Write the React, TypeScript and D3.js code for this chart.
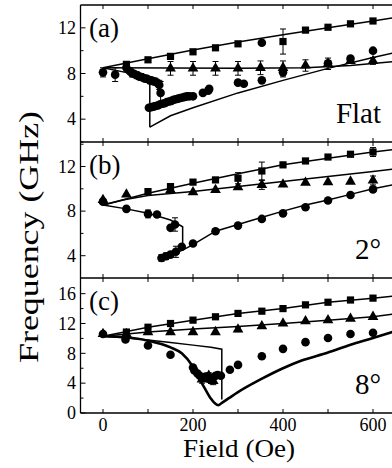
import React, { useRef, useEffect } from 'react';
import * as d3 from 'd3';

// [field (Oe), frequency (GHz), error bar half-height?]
type Pt = number[];

const fieldTicks = [0, 100, 200, 300, 400, 500, 600];
const fieldLabels = [0, 200, 400, 600];

// ---- panel (a), flat ----
const aLineUpper: Pt[] = [[0, 8.5], [100, 9.3], [200, 10.05], [300, 10.75], [400, 11.4], [500, 12.0], [600, 12.6], [650, 12.9]];
const aLineMid: Pt[] = [[0, 8.5], [300, 8.45], [450, 8.5], [550, 8.7], [650, 9.05]];
const aLineDesc: Pt[] = [[0, 8.5], [50, 8.1], [104, 7.3], [104, 3.3]];
const aLineLow: Pt[] = [[104, 3.3], [150, 4.3], [200, 5.0], [300, 6.3], [400, 7.4], [500, 8.45], [600, 9.4], [650, 9.85]];
const aSquares: Pt[] = [[52, 8.8], [100, 9.2], [150, 9.5], [200, 9.9], [250, 10.25], [300, 10.6], [400, 10.8, 1.1], [450, 11.8], [500, 12.05], [550, 12.35], [600, 12.6]];
const aTriangles: Pt[] = [[150, 8.45, 0.6], [200, 8.45, 0.6], [250, 8.45, 0.6], [300, 8.45, 0.6], [350, 8.5, 0.6], [400, 8.5, 0.6], [450, 8.7, 0.5], [500, 8.85, 0.5], [550, 9.1], [600, 9.1, 0.3]];
const aCircles: Pt[] = [
  [0, 8.1, 0.4], [27, 7.9, 0.6], [52, 8.5, 0.3], [60, 8.2], [65, 8.0, 0.3], [70, 7.95], [75, 7.85, 0.3], [80, 7.75],
  [85, 7.7, 0.3], [90, 7.6], [95, 7.55, 0.3], [100, 7.5], [105, 7.4, 0.3], [110, 7.35], [115, 7.3, 0.3], [120, 7.2],
  [125, 7.0, 0.4], [128, 6.3, 1.0],
  [102, 5.0], [107, 5.05], [112, 5.1], [117, 5.15], [122, 5.2], [127, 5.3], [132, 5.35], [137, 5.4], [142, 5.5],
  [147, 5.55], [152, 5.6], [157, 5.7], [162, 5.75], [167, 5.8], [172, 5.85], [177, 5.9], [182, 5.95], [187, 6.0],
  [192, 6.0], [200, 6.0], [222, 6.3], [234, 6.5], [236, 6.65], [300, 7.2], [313, 7.1], [353, 7.4], [353, 10.7],
  [400, 8.1, 0.4], [500, 8.9], [550, 9.3], [600, 10.0]
];

// ---- panel (b), 2 degrees ----
const bLineUpper: Pt[] = [[0, 8.55], [100, 9.6], [200, 10.5], [300, 11.35], [400, 12.15], [500, 12.75], [600, 13.3], [650, 13.55]];
const bLineMid: Pt[] = [[0, 8.55], [50, 9.05], [100, 9.4], [200, 9.75], [300, 10.2], [400, 10.65], [500, 11.1], [600, 11.55], [650, 11.8]];
const bLineDesc: Pt[] = [[0, 8.55], [52, 8.2], [100, 7.8], [150, 7.2], [177, 6.6], [177, 4.5]];
const bLineLow: Pt[] = [[140, 3.9], [177, 4.5], [200, 5.0], [250, 6.2], [300, 6.8], [350, 7.4], [400, 8.0], [450, 8.55], [500, 9.0], [550, 9.5], [600, 10.0], [650, 10.4]];
const bSquares: Pt[] = [[100, 9.75], [150, 10.2], [200, 10.6], [250, 10.8], [300, 10.95, 0.5], [353, 11.6, 0.8], [400, 12.15], [450, 12.5], [500, 12.85], [550, 13.1], [600, 13.3, 0.4]];
const bTriangles: Pt[] = [[0, 9.0], [52, 9.5], [150, 9.9], [200, 9.7], [250, 9.9], [300, 10.15], [353, 10.35, 0.4], [400, 10.4], [450, 10.55], [500, 10.6], [550, 10.65], [600, 10.75, 0.4]];
const bCircles: Pt[] = [
  [0, 8.85], [52, 8.2], [100, 7.75, 0.35], [120, 7.7], [150, 6.5], [160, 6.8, 0.6], [130, 3.8, 0.3], [140, 3.95, 0.3],
  [150, 4.1], [162, 4.35, 0.5], [175, 4.8], [200, 5.1], [250, 6.2], [300, 6.7], [353, 7.3], [400, 7.8], [450, 8.35],
  [500, 8.95], [550, 9.45], [600, 9.95]
];

// ---- panel (c), 8 degrees ----
const cLineUpper: Pt[] = [[0, 10.3], [100, 11.5], [200, 12.45], [300, 13.35], [400, 14.0], [500, 14.85], [600, 15.4], [650, 15.7]];
const cLineMid: Pt[] = [[0, 10.3], [100, 10.85], [200, 11.25], [300, 11.6], [400, 12.0], [500, 12.45], [600, 12.9], [650, 13.3]];
const cLineDip: Pt[] = [[0, 10.3], [50, 10.15], [100, 9.7], [150, 8.8], [175, 8.0], [200, 6.2], [215, 4.5], [230, 2.9], [240, 1.9], [256, 1.05], [265, 1.4], [280, 2.0], [300, 2.8], [350, 4.5], [400, 6.0], [440, 7.0], [500, 8.1], [550, 9.15], [600, 10.05], [650, 11.0]];
const cLineHyst: Pt[] = [[0, 10.3], [50, 10.1], [100, 9.8], [150, 9.45], [200, 9.1], [240, 8.8], [264, 8.55], [264, 1.8]];
const cSquares: Pt[] = [[52, 10.85], [100, 11.5], [150, 12.0], [200, 12.45], [250, 12.9], [300, 13.35], [353, 13.65], [400, 14.0], [450, 14.5], [500, 14.85], [550, 15.15], [600, 15.4]];
const cTriangles: Pt[] = [[0, 10.6], [52, 10.6], [100, 10.85], [150, 10.85], [200, 10.85], [250, 10.85], [300, 11.2, 0.3], [353, 11.65], [400, 12.0], [450, 12.3], [500, 12.45], [550, 12.65], [600, 12.9], [220, 4.5, 0.5], [235, 5.0, 0.4], [245, 4.3, 0.5]];
const cCircles: Pt[] = [
  [0, 10.6], [50, 9.85], [100, 9.05], [150, 7.8], [200, 6.1], [203, 5.7], [210, 5.3], [215, 5.0], [222, 4.7], [228, 4.9],
  [235, 4.6], [240, 4.4], [245, 4.8], [250, 5.0], [255, 5.1], [262, 5.0], [282, 5.8], [300, 6.45], [353, 7.6], [400, 8.6],
  [450, 9.5], [500, 10.05], [550, 10.6], [600, 10.75]
];

const panels = [
  { tag: '(a)', note: 'Flat', domain: [2, 14], top: 5, bottom: 142, ticks: [2, 4, 6, 8, 10, 12], labels: [4, 8, 12],
    lines: [aLineUpper, aLineMid, aLineDesc, aLineLow], thick: [] as Pt[][],
    squares: aSquares, triangles: aTriangles, circles: aCircles },
  { tag: '(b)', note: '2°', domain: [2, 14.2], top: 142, bottom: 278, ticks: [4, 6, 8, 10, 12, 14], labels: [4, 8, 12],
    lines: [bLineUpper, bLineMid, bLineDesc, bLineLow], thick: [] as Pt[][],
    squares: bSquares, triangles: bTriangles, circles: bCircles },
  { tag: '(c)', note: '8°', domain: [0, 18.1], top: 278, bottom: 413, ticks: [0, 2, 4, 6, 8, 10, 12, 14, 16], labels: [0, 4, 8, 12, 16],
    lines: [cLineUpper, cLineMid, cLineHyst], thick: [cLineDip],
    squares: cSquares, triangles: cTriangles, circles: cCircles }
];

export default function App() {
  const ref = useRef<SVGSVGElement>(null);

  useEffect(() => {
    const svg = d3.select(ref.current);
    svg.selectAll('*').remove();
    const font = "'Times New Roman', 'Liberation Serif', Times, serif";
    const left = 80.5;

    const x = d3.scaleLinear().domain([-50, 700]).range([left, 418]);

    svg.append('rect').attr('width', 392).attr('height', 468).attr('fill', '#fff');

    panels.forEach((p, i) => {
      const y = d3.scaleLinear().domain(p.domain).range([p.bottom, p.top]);
      const g = svg.append('g');

      // frame
      g.append('line').attr('x1', left).attr('x2', 420).attr('y1', p.bottom).attr('y2', p.bottom)
        .attr('stroke', '#000').attr('stroke-width', 1.3);
      if (i === 0) {
        g.append('line').attr('x1', left).attr('x2', 420).attr('y1', p.top).attr('y2', p.top)
          .attr('stroke', '#000').attr('stroke-width', 1.3);
      }
      g.append('line').attr('x1', left).attr('x2', left).attr('y1', p.top).attr('y2', p.bottom)
        .attr('stroke', '#000').attr('stroke-width', 1.3);

      // x ticks, inward at top and bottom
      fieldTicks.forEach(t => {
        g.append('line').attr('x1', x(t)).attr('x2', x(t)).attr('y1', p.bottom).attr('y2', p.bottom - 4)
          .attr('stroke', '#000');
        g.append('line').attr('x1', x(t)).attr('x2', x(t)).attr('y1', p.top).attr('y2', p.top + 4)
          .attr('stroke', '#000');
      });

      // y ticks
      p.ticks.forEach(t => {
        const major = p.labels.includes(t);
        g.append('line').attr('x1', left).attr('x2', left + (major ? 5 : 3))
          .attr('y1', y(t)).attr('y2', y(t)).attr('stroke', '#000');
      });
      p.labels.forEach(t => {
        g.append('text').attr('x', 76).attr('y', y(t)).attr('dy', '0.35em')
          .attr('text-anchor', 'end').attr('font-family', font).attr('font-size', 18).text(t);
      });

      const line = d3.line<Pt>().x(d => x(d[0])).y(d => y(d[1]));
      p.lines.forEach(l => {
        g.append('path').datum(l).attr('d', line).attr('fill', 'none')
          .attr('stroke', '#000').attr('stroke-width', 1.5);
      });
      const smooth = d3.line<Pt>().x(d => x(d[0])).y(d => y(d[1])).curve(d3.curveMonotoneX);
      p.thick.forEach(l => {
        g.append('path').datum(l).attr('d', smooth).attr('fill', 'none')
          .attr('stroke', '#000').attr('stroke-width', 2.6);
      });

      // error bars
      const all = [...p.squares, ...p.triangles, ...p.circles].filter(d => d[2]);
      all.forEach(d => {
        const cx = x(d[0]);
        const y1 = y(d[1] + d[2]);
        const y2 = y(d[1] - d[2]);
        g.append('line').attr('x1', cx).attr('x2', cx).attr('y1', y1).attr('y2', y2).attr('stroke', '#000');
        g.append('line').attr('x1', cx - 3).attr('x2', cx + 3).attr('y1', y1).attr('y2', y1).attr('stroke', '#000');
        g.append('line').attr('x1', cx - 3).attr('x2', cx + 3).attr('y1', y2).attr('y2', y2).attr('stroke', '#000');
      });

      const marks = [
        { data: p.squares, type: d3.symbolSquare, size: 52 },
        { data: p.triangles, type: d3.symbolTriangle, size: 50 },
        { data: p.circles, type: d3.symbolCircle, size: 58 }
      ];
      marks.forEach(m => {
        g.selectAll(null).data(m.data).enter().append('path')
          .attr('d', d3.symbol().type(m.type).size(m.size))
          .attr('transform', d => `translate(${x(d[0])},${y(d[1])})`)
          .attr('fill', '#000');
      });

      // panel tag and note
      g.append('text').attr('x', 89).attr('y', p.top + 32).attr('font-family', font)
        .attr('font-size', 27).text(p.tag);
      g.append('text').attr('x', 381).attr('y', p.bottom - 19).attr('text-anchor', 'end')
        .attr('font-family', font).attr('font-size', 29).text(p.note);

      if (i === 2) {
        fieldLabels.forEach(t => {
          g.append('text').attr('x', x(t)).attr('y', 431).attr('text-anchor', 'middle')
            .attr('font-family', font).attr('font-size', 18).text(t);
        });
      }
    });

    // axis titles
    svg.append('text').attr('x', 239).attr('y', 457).attr('text-anchor', 'middle')
      .attr('font-family', font).attr('font-size', 25)
      .attr('textLength', 112).attr('lengthAdjust', 'spacingAndGlyphs').text('Field (Oe)');
    svg.append('text').attr('transform', 'translate(38,237) rotate(-90)').attr('text-anchor', 'middle')
      .attr('font-family', font).attr('font-size', 28)
      .attr('textLength', 252).attr('lengthAdjust', 'spacingAndGlyphs').text('Frequency (GHz)');
  }, []);

  return (
    <svg ref={ref} width={392} height={468}
      style={{ position: 'absolute', left: 0, top: 0, display: 'block' }} />
  );
}
